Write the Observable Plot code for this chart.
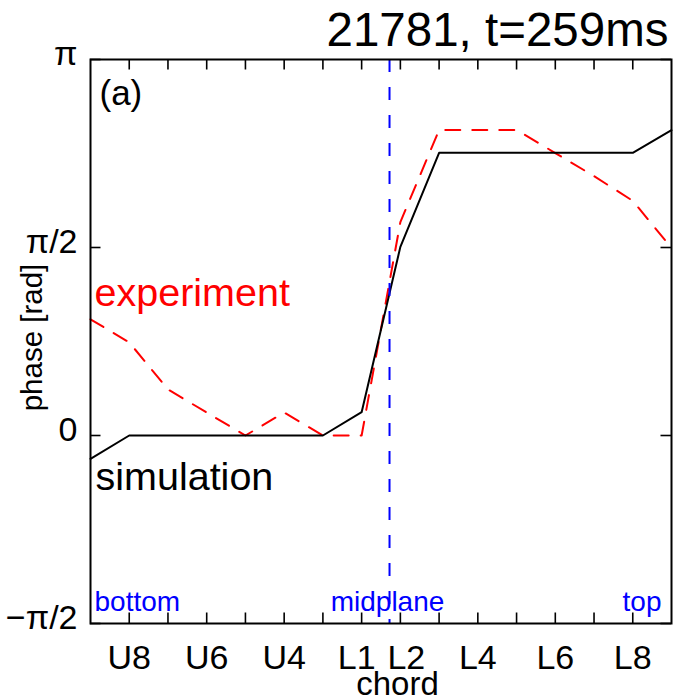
<!DOCTYPE html>
<html><head><meta charset="utf-8">
<script src="https://cdn.jsdelivr.net/npm/d3@7"></script>
<script src="https://cdn.jsdelivr.net/npm/@observablehq/plot@0.6"></script>
<style>body{margin:0;background:#fff} #chart svg{display:block}</style>
</head><body><div id="chart"></div>
<script>
// chord position index (0 .. 15)
const position   = [0, 1, 2, 3, 4, 5, 6, 7, 8, 9, 10, 11, 12, 13, 14, 15];
const simulation = [-0.195, 0, 0, 0, 0, 0, 0, 0.195, 1.576, 2.362, 2.362, 2.362, 2.362, 2.362, 2.362, 2.551];
const experiment = [0.971, 0.778, 0.385, 0.192, 0, 0.192, 0, 0, 1.783, 2.553, 2.553, 2.553, 2.360, 2.167, 1.961, 1.567];
const midplane = 7.72;

const xTickPositions = [1, 2, 3, 4, 5, 6, 7, 8, 9, 10, 11, 12, 13, 14];
const xLabelTicks = [1, 3, 5, 7, 8, 10, 12, 14];
const xLabelTexts = ["U8", "U6", "U4", "L1", "L2", "L4", "L6", "L8"];
const yTicks = [-Math.PI / 2, 0, Math.PI / 2, Math.PI];
const yTickTexts = ["\u2212\u03c0/2", "0", "\u03c0/2", "\u03c0"];

const title = "21781, t=259ms";
const xLabel = "chord";
const yLabel = "phase [rad]";

const simRows = position.map((p, i) => ({p, v: simulation[i]}));
const expRows = position.map((p, i) => ({p, v: experiment[i]}));
const xLabelOf = d => xLabelTexts[xLabelTicks.indexOf(d)];

const W = 675, H = 700, mL = 90, mR = 4, mT = 59, mB = 77;
const tickLen = 10.5;
const innerW = W - mL - mR, innerH = H - mT - mB;
const font = "'Liberation Sans', Arial, Helvetica, sans-serif";
const xAxisOpts = {anchor: "bottom", tickSize: 0, tickPadding: 21, fontSize: 34, label: null, tickFormat: xLabelOf};

const chart = Plot.plot({
  width: W, height: H,
  marginLeft: mL, marginRight: mR, marginTop: mT, marginBottom: mB,
  style: {fontFamily: font, background: "white", color: "black", overflow: "visible"},
  x: {domain: [0, 15], axis: null},
  y: {domain: [-Math.PI / 2, Math.PI], axis: null},
  marks: [
    Plot.line(expRows, {x: "p", y: "v", stroke: "#ff0000", strokeWidth: 2, strokeDasharray: "15,12"}),
    Plot.line(simRows, {x: "p", y: "v", stroke: "black", strokeWidth: 2}),
    Plot.ruleX([midplane], {stroke: "#0000ff", strokeWidth: 2, strokeDasharray: "13,15"}),
    // inward ticks on all four sides
    Plot.tickX(xTickPositions, {x: d => d, insetTop: innerH - tickLen, stroke: "black", strokeWidth: 1.6}),
    Plot.tickX(xTickPositions, {x: d => d, insetBottom: innerH - tickLen, stroke: "black", strokeWidth: 1.6}),
    Plot.tickY(yTicks, {y: d => d, insetRight: innerW - tickLen, stroke: "black", strokeWidth: 1.6}),
    Plot.tickY(yTicks, {y: d => d, insetLeft: innerW - tickLen, stroke: "black", strokeWidth: 1.6}),
    Plot.frame({stroke: "black", strokeWidth: 2}),
    Plot.axisX(xLabelTicks.filter(d => d !== 7 && d !== 8), xAxisOpts),
    Plot.axisX([7], {...xAxisOpts, dx: -5}),
    Plot.axisX([8], {...xAxisOpts, dx: 6}),
    Plot.axisY(yTicks, {anchor: "left", tickSize: 0, tickPadding: 13, fontSize: 34, label: null, dy: -5,
      tickFormat: d => yTickTexts[yTicks.indexOf(d)]}),
    // labels
    Plot.text([title], {frameAnchor: "top-right", textAnchor: "end", lineAnchor: "bottom", dx: -3, dy: -14, fontSize: 47.5, fill: "black"}),
    Plot.text([xLabel], {frameAnchor: "bottom", textAnchor: "middle", lineAnchor: "bottom", dx: 16.5, dy: 71, fontSize: 33, fill: "black"}),
    Plot.text([yLabel], {frameAnchor: "left", textAnchor: "middle", lineAnchor: "bottom", rotate: -90, dx: -49, dy: -4, fontSize: 29.5, fill: "black"}),
    Plot.text(["(a)"], {frameAnchor: "top-left", textAnchor: "start", lineAnchor: "middle", dx: 9, dy: 34, fontSize: 35, fill: "black"}),
    Plot.text(["experiment"], {frameAnchor: "top-left", textAnchor: "start", lineAnchor: "bottom", dx: 4, dy: 246, fontSize: 39.5, fill: "#ff0000"}),
    Plot.text(["simulation"], {frameAnchor: "top-left", textAnchor: "start", lineAnchor: "bottom", dx: 5, dy: 430, fontSize: 39.5, fill: "black"}),
    Plot.text(["bottom"], {frameAnchor: "bottom-left", textAnchor: "start", lineAnchor: "bottom", dx: 4, dy: -13, fontSize: 28, fill: "#0000ff"}),
    Plot.text([midplane], {x: d => d, text: () => "midplane", frameAnchor: "bottom", textAnchor: "middle", lineAnchor: "bottom", dx: -2, dy: -13, fontSize: 28, fill: "#0000ff"}),
    Plot.text(["top"], {frameAnchor: "bottom-right", textAnchor: "end", lineAnchor: "bottom", dx: -10, dy: -13, fontSize: 28, fill: "#0000ff"})
  ]
});
document.getElementById("chart").appendChild(chart);
</script>
</body></html>
